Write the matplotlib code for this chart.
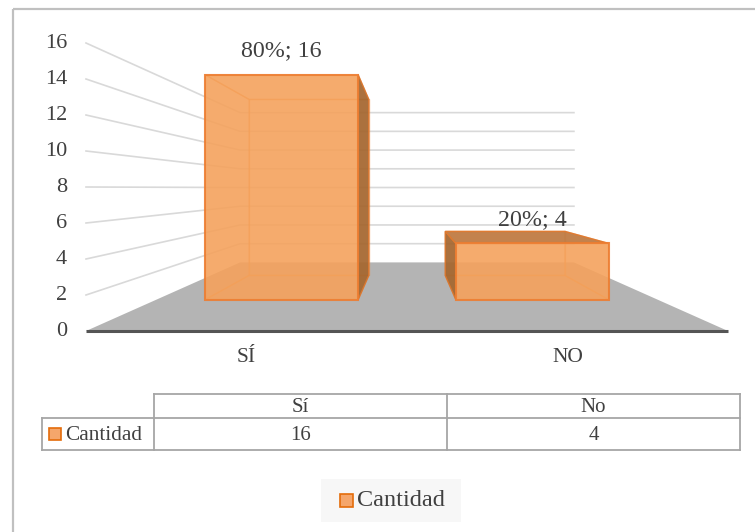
import matplotlib
matplotlib.use('Agg')
import matplotlib.pyplot as plt
from matplotlib.patches import Polygon, Rectangle

# ---------------- data ----------------
categories = ['SÍ', 'NO']
table_headers = ['Sí', 'No']
values = [16, 4]
percent_labels = ['80%', '20%']
series_name = 'Cantidad'
y_ticks = [0, 2, 4, 6, 8, 10, 12, 14, 16]

plt.rcParams['font.family'] = ['Liberation Serif', 'DejaVu Serif']
TXT = '#404040'

W, H = 755, 532
fig = plt.figure(figsize=(W / 100, H / 100), dpi=100)
fig.patch.set_facecolor('white')

# ---------------- overlay (frame, table, legend) in pixel units ----------------
ov = fig.add_axes([0, 0, 1, 1])
ov.set_xlim(0, W)
ov.set_ylim(H, 0)
ov.axis('off')
ov.patch.set_alpha(0)

# chart frame (top and left edges visible)
ov.plot([13, W], [9, 9], color='#C0C0C0', lw=1.6, solid_capstyle='butt')
ov.plot([13, 13], [9, H], color='#C0C0C0', lw=1.6, solid_capstyle='butt')

# ---------------- chart axes: front plane ----------------
px_left, px_right, px_top, px_bottom = 86, 728, 43, 331
ax = fig.add_axes([px_left / W, 1 - px_bottom / H,
                   (px_right - px_left) / W, (px_bottom - px_top) / H])
ax.set_xlim(0, len(categories))
ax.set_ylim(0, max(y_ticks))
ax.axis('off')
ax.patch.set_alpha(0)

U_V = len(categories) / 2.0     # vanishing point (category units)
V_V = 7.94                      # vanishing point (value units)
K = 1 / 0.52 - 1                # depth scale: back wall at 52 %


def proj(u, v, d):
    s = 1.0 / (1.0 + K * d)
    return (U_V + s * (u - U_V), V_V + s * (v - V_V))


ncat = len(categories)

# gridlines: left wall + back wall
for t in y_ticks[1:]:
    a = proj(0, t, 0)
    b = proj(0, t, 1)
    c = proj(ncat, t, 1)
    ax.plot([a[0], b[0], c[0]], [a[1], b[1], c[1]], color='#D9D9D9', lw=1.2,
            zorder=1, clip_on=False, solid_joinstyle='miter')

# floor
floor = [proj(0, 0, 0), proj(ncat, 0, 0), proj(ncat, 0, 1), proj(0, 0, 1)]
ax.add_patch(Polygon(floor, closed=True, facecolor='#B4B4B4', edgecolor='none',
                     zorder=2, clip_on=False))
f0, f1 = proj(0, 0, 0), proj(ncat, 0, 0)
ax.plot([f0[0], f1[0]], [f0[1], f1[1]], color='#555555', lw=2.2, zorder=2.5,
        clip_on=False, solid_capstyle='butt')

# tick labels
for t in y_ticks:
    ax.annotate(str(t), xy=(0, t), xytext=(-13.5, 0), textcoords='offset points',
                ha='right', va='center', fontsize=16, color=TXT,
                annotation_clip=False)

# category labels
for i, c in enumerate(categories):
    ax.annotate(c, xy=(i + 0.5, 0), xytext=(0, -19), textcoords='offset points',
                ha='center', va='center', fontsize=15.5, color=TXT,
                annotation_clip=False)

# bars
bar_w = 0.61
d0, d1 = 0.304, 0.690
for i, val in enumerate(values):
    u0 = i + 0.5 - bar_w / 2
    u1 = u0 + bar_w
    P = proj
    faces = {
        'back': [P(u0, 0, d1), P(u1, 0, d1), P(u1, val, d1), P(u0, val, d1)],
        'left': [P(u0, 0, d0), P(u0, 0, d1), P(u0, val, d1), P(u0, val, d0)],
        'right': [P(u1, 0, d0), P(u1, 0, d1), P(u1, val, d1), P(u1, val, d0)],
        'bottom': [P(u0, 0, d0), P(u1, 0, d0), P(u1, 0, d1), P(u0, 0, d1)],
        'top': [P(u0, val, d0), P(u1, val, d0), P(u1, val, d1), P(u0, val, d1)],
        'front': [P(u0, 0, d0), P(u1, 0, d0), P(u1, val, d0), P(u0, val, d0)],
    }
    visible = {
        'left': u0 > U_V,
        'right': u1 < U_V,
        'top': val < V_V,
        'bottom': 0 > V_V,
    }
    hidden = ['back'] + [k for k in ('left', 'right', 'top', 'bottom') if not visible[k]]
    for k in hidden:
        ax.add_patch(Polygon(faces[k], closed=True, facecolor='#F4A460', alpha=0.14,
                             edgecolor='none', zorder=3, clip_on=False))
        ax.add_patch(Polygon(faces[k], closed=True, facecolor='none',
                             edgecolor='#EE8A3C', alpha=0.55, lw=1.0, zorder=3.1,
                             clip_on=False))
    for k in ('left', 'right'):
        if visible[k]:
            ax.add_patch(Polygon(faces[k], closed=True, facecolor='#A4662F', alpha=0.92,
                                 edgecolor='#D9762E', lw=1.0, zorder=4, clip_on=False))
    if visible['top']:
        ax.add_patch(Polygon(faces['top'], closed=True, facecolor='#C07C45', alpha=0.95,
                             edgecolor='#E07A30', lw=1.0, zorder=4, clip_on=False))
    ax.add_patch(Polygon(faces['front'], closed=True, facecolor='#F5A25C', alpha=0.88,
                         edgecolor='#ED7D31', lw=1.5, zorder=5, clip_on=False))
    ax.annotate(f'{percent_labels[i]}; {val}', xy=P(i + 0.5, val, d0),
                xytext=(0, 17.3), textcoords='offset points', ha='center',
                va='center', fontsize=17.3, color=TXT, annotation_clip=False)

# ---------------- data table ----------------
tbl_left, col_x = 42, [154, 447, 740]
row_top, row_mid, row_bot = 394, 418, 450
lc, lw_t = '#A6A6A6', 1.3
ov.plot([col_x[0], col_x[-1]], [row_top, row_top], color=lc, lw=lw_t)
ov.plot([tbl_left, col_x[-1]], [row_mid, row_mid], color=lc, lw=lw_t)
ov.plot([tbl_left, col_x[-1]], [row_bot, row_bot], color=lc, lw=lw_t)
ov.plot([tbl_left, tbl_left], [row_mid, row_bot], color=lc, lw=lw_t)
for x in col_x:
    ov.plot([x, x], [row_top, row_bot], color=lc, lw=lw_t)
for j, (hdr, val) in enumerate(zip(table_headers, values)):
    cx = (col_x[j] + col_x[j + 1]) / 2
    ov.text(cx, (row_top + row_mid) / 2 + 1, hdr, ha='center', va='center',
            fontsize=15, color=TXT)
    ov.text(cx, (row_mid + row_bot) / 2 + 1, str(val), ha='center', va='center',
            fontsize=15, color=TXT)
ov.add_patch(Rectangle((49, 428), 12, 12, facecolor='#F5A66B', edgecolor='#E46C0A',
                       lw=1.2))
ov.text(65, (row_mid + row_bot) / 2 + 1, series_name, ha='left', va='center',
        fontsize=15.3, color=TXT)

# ---------------- legend ----------------
ov.add_patch(Rectangle((321, 479), 140, 43, facecolor='#F7F7F7', edgecolor='none'))
ov.add_patch(Rectangle((340, 494), 13, 13, facecolor='#F5A66B', edgecolor='#E46C0A',
                       lw=1.2))
ov.text(357, 501, series_name, ha='left', va='center', fontsize=17.5, color=TXT)

fig.savefig('out.png', dpi=100, facecolor='white')
